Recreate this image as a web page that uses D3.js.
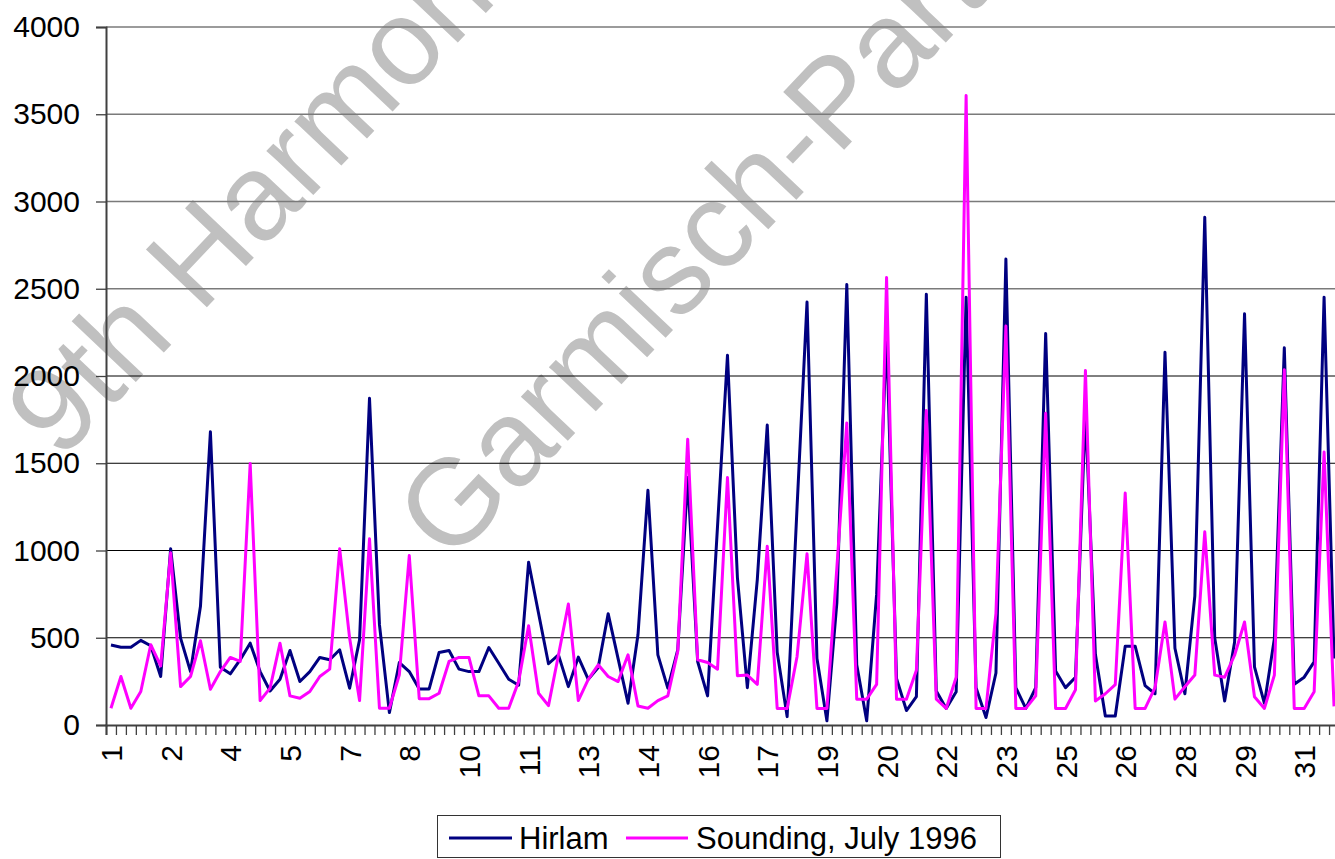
<!DOCTYPE html>
<html>
<head>
<meta charset="utf-8">
<script src="https://cdn.jsdelivr.net/npm/d3@7"></script>
<style>
  html, body { margin: 0; padding: 0; background: #fff; overflow: hidden; }
  svg { display: block; font-family: "Liberation Sans", Arial, sans-serif; }
</style>
</head>
<body>
<svg id="chart" width="1335" height="859"></svg>
<script>
// ---- data (4 soundings per day, 1..31 July 1996) ----
const days = d3.range(1, 32);
const obsPerDay = 4;
const categories = days.flatMap(d => d3.range(obsPerDay).map(() => String(d)));

const hirlam = [
  458, 446, 446, 485, 454, 278, 1010, 498, 306, 680, 1680, 331,
  293, 374, 469, 306, 195, 262, 427, 249, 306, 387, 374, 431,
  211, 488, 1872, 575, 71, 358, 306, 207, 207, 416, 427, 320,
  306, 306, 444, 354, 262, 228, 933, 640, 351, 402, 220, 389,
  262, 330, 638, 380, 125, 517, 1345, 402, 211, 431, 1418, 364,
  167, 1140, 2119, 845, 214, 833, 1719, 417, 48, 1250, 2424, 381,
  24, 700, 2524, 345, 24, 750, 2250, 267, 83, 162, 2469, 195,
  95, 190, 2452, 214, 43, 298, 2671, 214, 95, 214, 2243, 310,
  214, 274, 1800, 405, 52, 52, 452, 452, 226, 179, 2136, 440,
  179, 738, 2910, 500, 138, 476, 2357, 333, 124, 495, 2162, 233,
  274, 362, 2452, 381
];
const sounding = [
  96, 278, 96, 192, 460, 339, 987, 220, 278, 483, 205, 306,
  387, 364, 1498, 140, 211, 469, 167, 153, 192, 278, 320, 1010,
  498, 140, 1067, 96, 96, 287, 971, 151, 151, 182, 364, 387,
  387, 167, 167, 96, 96, 250, 569, 182, 111, 400, 693, 140,
  262, 345, 278, 249, 402, 109, 96, 140, 167, 421, 1638, 374,
  358, 320, 1418, 282, 286, 233, 1024, 95, 95, 393, 981, 95,
  95, 900, 1731, 148, 148, 233, 2564, 148, 148, 314, 1802, 148,
  95, 274, 3607, 95, 95, 640, 2286, 95, 95, 167, 1786, 95,
  95, 202, 2031, 138, 179, 231, 1329, 95, 95, 214, 590, 148,
  219, 286, 1107, 286, 274, 400, 590, 162, 95, 286, 2036, 95,
  95, 190, 1564, 107
];
const xTickLabels = ["1","2","4","5","7","8","10","11","13","14","16","17","19","20","22","23","25","26","28","29","31"];
const xTickEvery = 6;
const yTicks = [0, 500, 1000, 1500, 2000, 2500, 3000, 3500, 4000];
const seriesNames = ["Hirlam", "Sounding, July 1996"];
const seriesColors = ["#000080", "#FF00FF"];
const watermarkLines = ["9th Harmonisation", "Garmisch-Partenkirchen"];

// ---- layout ----
const svg = d3.select("#chart");
const L = 106, R = 1339, T = 27, B = 725;
const fontFam = '"Liberation Sans", Arial, sans-serif';

const idx = d3.range(categories.length);
const x = d3.scalePoint().domain(idx).range([L, R]).padding(0.5);
const xEdge = d3.scaleLinear().domain([0, categories.length]).range([L, R]);
const y = d3.scaleLinear().domain([0, 4000]).range([B, T]);

// watermark (behind everything)
const wm = svg.append("g").attr("fill", "#c0c0c0")
  .style("font-family", fontFam).style("font-size", "122px");
wm.append("text").attr("transform", "translate(60,462) rotate(-46.5)").text(watermarkLines[0]);
wm.append("text").attr("transform", "translate(450,565) rotate(-46.5)").text(watermarkLines[1]);

// gridlines
svg.append("g").selectAll("line")
  .data(yTicks.filter(v => v > 0))
  .join("line")
  .attr("x1", L).attr("x2", R)
  .attr("y1", d => y(d)).attr("y2", d => y(d))
  .attr("stroke", d => d > 2000 ? "#7a7a7a" : "#000")
  .attr("stroke-width", d => d > 2000 ? 1.3 : 1);

// y axis
const yAxis = svg.append("g").attr("transform", `translate(${L},0)`)
  .call(d3.axisLeft(y).tickValues(yTicks).tickSize(10).tickPadding(16).tickFormat(d3.format("d")));
yAxis.select(".domain").attr("stroke", "#404040").attr("stroke-width", 2);
yAxis.selectAll(".tick line").attr("stroke", "#404040").attr("stroke-width", 1.3);
yAxis.selectAll("text").attr("fill", "#000").style("font-size", "30px").style("font-family", fontFam);

// x axis tick marks (between categories)
const xAxisTicks = svg.append("g").attr("transform", `translate(0,${B})`)
  .call(d3.axisBottom(xEdge).tickValues(d3.range(categories.length + 1)).tickSize(10).tickFormat(""));
xAxisTicks.select(".domain").attr("stroke", "#404040").attr("stroke-width", 2);
xAxisTicks.selectAll(".tick line").attr("stroke", "#404040").attr("stroke-width", 1.3);

// x labels (every 6th category)
const labelIdx = xTickLabels.map((_, k) => k * xTickEvery);
const xLab = svg.append("g").attr("transform", `translate(0,${B})`)
  .call(d3.axisBottom(x).tickValues(labelIdx).tickSize(0).tickFormat(d => categories[d]));
xLab.select(".domain").remove();
xLab.selectAll("text")
  .attr("transform", "rotate(-90)")
  .attr("x", -20).attr("y", 0).attr("dy", "0.35em")
  .attr("text-anchor", "end")
  .attr("fill", "#000")
  .style("font-size", "30px").style("font-family", fontFam);

// lines
const line = d3.line().x((d, i) => x(i)).y(d => y(d));
[hirlam, sounding].forEach((s, k) => {
  svg.append("path").datum(s)
    .attr("fill", "none")
    .attr("stroke", seriesColors[k])
    .attr("stroke-width", 3)
    .attr("stroke-linejoin", "round")
    .attr("d", line);
});

// legend
const lg = svg.append("g");
lg.append("rect").attr("x", 437.5).attr("y", 815.5).attr("width", 563).attr("height", 42)
  .attr("fill", "#fff").attr("stroke", "#333").attr("stroke-width", 1);
const legItems = [{x1: 449, x2: 512, tx: 519}, {x1: 626, x2: 688, tx: 696}];
legItems.forEach((it, k) => {
  lg.append("line").attr("x1", it.x1).attr("x2", it.x2).attr("y1", 838).attr("y2", 838)
    .attr("stroke", seriesColors[k]).attr("stroke-width", 3);
  lg.append("text").attr("x", it.tx).attr("y", 849)
    .style("font-size", "31px").style("font-family", fontFam).attr("fill", "#000")
    .text(seriesNames[k]);
});
</script>
</body>
</html>
